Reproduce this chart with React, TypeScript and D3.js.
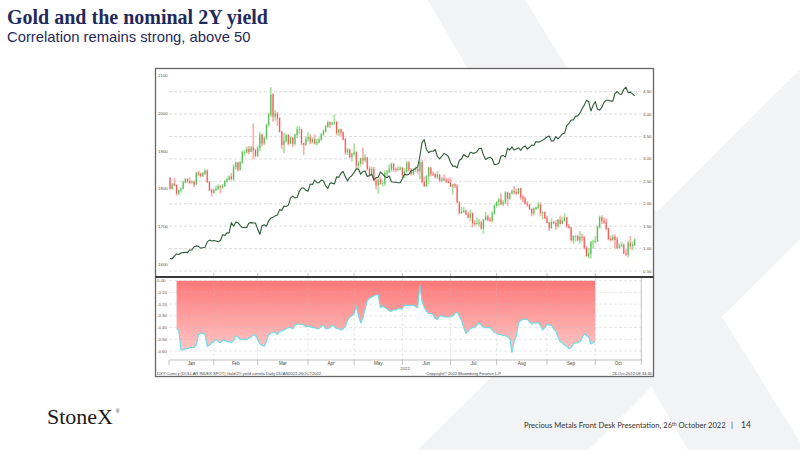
import React from "react";
import * as d3 from "d3";

// Gold spot daily bars [open, high, low, close], 03 Jan 2022 – 26 Oct 2022 (weekdays)
const goldOHLC: [number, number, number, number][] = [
  [1829,1831,1798,1801],[1801,1815,1798,1814],[1814,1829,1808,1810],[1810,1812,1782,1789],[1789,1798,1783,1797],
  [1797,1804,1790,1801],[1801,1822,1799,1818],[1818,1829,1815,1826],[1826,1828,1815,1821],[1821,1830,1812,1817],
  [1817,1823,1814,1819],[1819,1822,1805,1813],[1813,1845,1811,1843],[1843,1848,1834,1840],[1840,1843,1830,1835],
  [1835,1845,1831,1842],[1842,1853,1837,1848],[1848,1852,1816,1819],[1819,1821,1794,1797],[1797,1801,1780,1791],
  [1791,1801,1787,1797],
  [1797,1808,1795,1801],[1801,1812,1797,1807],[1807,1810,1788,1805],[1805,1813,1800,1808],[1808,1823,1805,1821],
  [1821,1830,1816,1826],[1826,1836,1823,1833],[1833,1842,1822,1827],[1827,1865,1821,1859],[1859,1873,1851,1870],
  [1870,1871,1846,1852],[1852,1874,1849,1871],[1871,1902,1866,1898],[1898,1903,1887,1898],[1898,1913,1894,1906],
  [1906,1914,1892,1899],[1899,1914,1897,1910],[1910,1974,1878,1903],[1903,1907,1883,1889],[1889,1914,1885,1909],
  [1909,1950,1900,1944],[1944,1946,1913,1922],[1922,1937,1916,1936],[1936,1973,1930,1970],[1970,2002,1964,1998],
  [1998,2070,1990,2050],[2050,2054,1978,1993],[1993,2009,1981,2000],[2000,2004,1967,1988],[1988,1990,1950,1952],
  [1952,1954,1906,1918],[1918,1949,1895,1928],[1928,1945,1923,1943],[1943,1945,1915,1921],[1921,1939,1920,1936],
  [1936,1938,1910,1921],[1921,1946,1915,1944],[1944,1966,1935,1958],[1958,1966,1945,1958],[1958,1960,1915,1922],
  [1922,1922,1890,1918],[1918,1939,1915,1933],[1933,1950,1925,1937],
  [1937,1945,1918,1925],[1925,1937,1920,1932],[1932,1944,1917,1922],[1922,1933,1915,1925],[1925,1936,1920,1931],
  [1931,1948,1928,1945],[1945,1958,1940,1954],[1954,1970,1948,1966],[1966,1981,1962,1977],[1977,1979,1961,1972],
  [1972,1978,1969,1975],[1975,1998,1970,1978],[1978,1980,1942,1949],[1949,1960,1940,1958],[1958,1960,1940,1951],
  [1951,1952,1929,1932],[1932,1935,1891,1898],[1898,1909,1890,1904],[1904,1907,1881,1886],[1886,1896,1872,1894],
  [1894,1920,1888,1897],
  [1897,1900,1850,1863],[1863,1875,1850,1868],[1868,1883,1860,1881],[1881,1910,1865,1877],[1877,1892,1870,1883],
  [1883,1885,1848,1854],[1854,1860,1832,1838],[1838,1859,1836,1853],[1853,1858,1820,1822],[1822,1828,1798,1811],
  [1811,1826,1787,1825],[1825,1833,1810,1815],[1815,1822,1806,1815],[1815,1849,1808,1842],[1842,1850,1834,1846],
  [1846,1865,1842,1853],[1853,1870,1845,1866],[1866,1869,1845,1853],[1853,1857,1845,1851],[1851,1860,1848,1853],
  [1853,1860,1849,1856],[1856,1858,1829,1837],
  [1837,1855,1828,1847],[1847,1874,1843,1869],[1869,1874,1846,1851],[1851,1855,1835,1841],[1841,1855,1837,1852],
  [1852,1860,1845,1853],[1853,1857,1838,1848],[1848,1875,1826,1871],[1871,1878,1815,1819],[1819,1833,1805,1808],
  [1808,1836,1805,1835],[1835,1858,1813,1857],[1857,1857,1833,1840],[1840,1846,1834,1839],[1839,1842,1828,1832],
  [1832,1847,1826,1838],[1838,1839,1817,1823],[1823,1831,1817,1827],[1827,1838,1822,1823],[1823,1830,1815,1820],
  [1820,1829,1815,1817],[1817,1830,1805,1807],
  [1807,1813,1784,1812],[1812,1815,1802,1808],[1808,1812,1764,1764],[1764,1767,1732,1737],[1737,1752,1734,1740],
  [1740,1752,1736,1742],[1742,1745,1731,1733],[1733,1738,1722,1725],[1725,1745,1714,1735],[1735,1738,1697,1710],
  [1710,1717,1702,1708],[1708,1724,1705,1709],[1709,1720,1700,1711],[1711,1716,1692,1696],[1696,1720,1681,1719],
  [1719,1739,1716,1727],[1727,1731,1714,1719],[1719,1725,1712,1717],[1717,1741,1711,1735],[1735,1760,1731,1756],
  [1756,1767,1750,1766],
  [1766,1776,1754,1772],[1772,1788,1757,1760],[1760,1770,1754,1765],[1765,1794,1760,1791],[1791,1792,1754,1775],
  [1775,1790,1771,1789],[1789,1798,1785,1794],[1794,1807,1785,1792],[1792,1800,1783,1789],[1789,1802,1786,1802],
  [1802,1803,1771,1779],[1779,1784,1764,1775],[1775,1780,1759,1761],[1761,1767,1753,1758],[1758,1760,1745,1747],
  [1747,1748,1727,1736],[1736,1751,1730,1748],[1748,1753,1743,1751],[1751,1765,1746,1758],[1758,1764,1727,1737],
  [1737,1740,1719,1738],[1738,1740,1719,1723],[1723,1728,1709,1711],
  [1711,1712,1688,1697],[1697,1722,1695,1712],[1712,1716,1707,1710],[1710,1717,1691,1702],[1702,1720,1697,1718],
  [1718,1729,1705,1708],[1708,1726,1708,1716],[1716,1735,1713,1724],[1724,1726,1697,1702],[1702,1707,1695,1697],
  [1697,1699,1660,1665],[1665,1677,1654,1675],[1675,1677,1660,1675],[1675,1678,1663,1664],[1664,1688,1654,1673],
  [1673,1681,1660,1671],[1671,1675,1639,1644],[1644,1650,1621,1622],[1622,1643,1615,1629],[1629,1661,1615,1660],
  [1660,1665,1641,1660],[1660,1675,1655,1661],
  [1661,1704,1659,1699],[1699,1729,1695,1725],[1725,1730,1707,1716],[1716,1724,1707,1712],[1712,1722,1690,1695],
  [1695,1697,1663,1668],[1668,1676,1660,1666],[1666,1679,1661,1673],[1673,1679,1642,1666],[1666,1672,1640,1644],
  [1644,1656,1642,1650],[1650,1660,1645,1652],[1652,1655,1628,1629],[1629,1639,1622,1627],[1627,1662,1618,1657],
  [1657,1675,1639,1649],[1649,1660,1637,1652],[1652,1669,1648,1665],
];

// US 2Y yield (%), same days
const yield2y: number[] = [
  0.78,0.77,0.83,0.88,0.87,0.90,0.91,0.92,0.91,0.97,0.97,1.04,1.06,1.05,1.01,1.02,1.03,1.15,1.19,1.17,1.18,
  1.17,1.15,1.18,1.31,1.29,1.35,1.35,1.58,1.50,1.59,1.58,1.52,1.47,1.47,1.47,1.57,1.58,1.57,1.57,1.43,
  1.32,1.51,1.53,1.50,1.62,1.68,1.70,1.73,1.75,1.87,1.85,1.95,1.94,1.97,2.13,2.17,2.13,2.14,2.28,2.35,2.35,2.30,2.28,
  2.44,2.43,2.53,2.47,2.47,2.53,2.51,2.40,2.34,2.46,2.46,2.44,2.60,2.59,2.68,2.72,2.60,2.51,2.59,2.63,2.70,
  2.78,2.77,2.66,2.72,2.73,2.61,2.63,2.66,2.54,2.58,2.59,2.71,2.66,2.61,2.58,2.62,2.49,2.48,2.48,2.47,2.47,2.56,
  2.66,2.64,2.66,2.73,2.75,2.79,2.82,3.06,3.37,3.43,3.21,3.14,3.17,3.17,3.21,3.05,3.00,3.06,3.12,3.10,3.05,2.92,
  2.84,2.84,2.80,2.97,3.00,3.10,3.06,3.04,3.15,3.13,3.13,3.16,3.23,3.24,3.09,2.99,3.02,3.04,3.00,2.87,2.88,
  2.90,3.06,3.08,3.04,3.24,3.20,3.27,3.20,3.22,3.25,3.19,3.26,3.29,3.22,3.26,3.31,3.30,3.39,3.37,3.39,3.42,3.45,3.49,
  3.51,3.40,3.40,3.50,3.45,3.50,3.56,3.57,3.75,3.79,3.87,3.87,3.95,3.96,4.02,4.12,4.20,4.31,4.28,4.07,4.19,4.28,
  4.11,4.09,4.15,4.26,4.31,4.31,4.29,4.29,4.46,4.50,4.45,4.44,4.55,4.60,4.48,4.49,4.45,4.41,
];

// Rolling correlation, starting at the 4th trading day (06 Jan)
const corrStart = 3;
const corr: number[] = [
  -0.41,-0.42,-0.59,-0.59,-0.58,-0.58,-0.57,-0.57,-0.57,-0.55,
  -0.46,-0.45,-0.45,-0.46,-0.56,-0.55,-0.53,-0.52,-0.50,-0.52,
  -0.53,-0.51,-0.51,-0.52,-0.52,-0.53,-0.51,-0.47,-0.48,-0.50,
  -0.50,-0.50,-0.50,-0.49,-0.48,-0.46,-0.47,-0.50,-0.54,-0.55,
  -0.56,-0.52,-0.46,-0.45,-0.44,-0.44,-0.46,-0.43,-0.43,-0.42,
  -0.41,-0.40,-0.40,-0.41,-0.38,-0.37,-0.37,-0.37,-0.38,-0.39,
  -0.39,-0.39,-0.40,-0.40,-0.41,-0.41,-0.39,-0.38,-0.41,-0.41,
  -0.40,-0.38,-0.39,-0.41,-0.41,-0.42,-0.41,-0.39,-0.34,-0.31,
  -0.30,-0.28,-0.22,-0.30,-0.36,-0.32,-0.24,-0.17,-0.15,-0.14,
  -0.13,-0.12,-0.12,-0.23,-0.22,-0.23,-0.24,-0.26,-0.26,-0.25,
  -0.25,-0.24,-0.24,-0.24,-0.21,-0.21,-0.21,-0.21,-0.21,-0.22,
  -0.23,-0.04,-0.18,-0.23,-0.26,-0.28,-0.28,-0.29,-0.32,-0.33,
  -0.30,-0.30,-0.31,-0.31,-0.31,-0.31,-0.30,-0.28,-0.27,-0.30,
  -0.34,-0.40,-0.45,-0.43,-0.41,-0.40,-0.40,-0.38,-0.36,-0.38,
  -0.40,-0.40,-0.40,-0.40,-0.42,-0.44,-0.45,-0.46,-0.46,-0.47,
  -0.47,-0.48,-0.49,-0.61,-0.52,-0.47,-0.36,-0.34,-0.33,-0.33,
  -0.33,-0.35,-0.37,-0.36,-0.36,-0.36,-0.38,-0.42,-0.40,-0.37,
  -0.38,-0.38,-0.41,-0.43,-0.48,-0.52,-0.53,-0.55,-0.56,-0.58,
  -0.57,-0.54,-0.53,-0.53,-0.52,-0.49,-0.45,-0.47,-0.48,-0.54,
  -0.53,-0.52,
];

const monthLabels = ["Jan", "Feb", "Mar", "Apr", "May", "Jun", "Jul", "Aug", "Sep", "Oct"];
const goldTicks = [1600, 1700, 1800, 1900, 2000, 2100];
const yieldTicks = [0.5, 1.0, 1.5, 2.0, 2.5, 3.0, 3.5, 4.0, 4.5];
const corrTicks = [0, -0.1, -0.2, -0.3, -0.4, -0.5, -0.6];

const startDate = new Date(2022, 0, 3);
const axisEndDate = new Date(2022, 9, 31);

function weekdays(a: Date, b: Date): Date[] {
  const out: Date[] = [];
  const d = new Date(a);
  while (d <= b) {
    const w = d.getDay();
    if (w !== 0 && w !== 6) out.push(new Date(d));
    d.setDate(d.getDate() + 1);
  }
  return out;
}

const SANS = "'Liberation Sans', Arial, sans-serif";
const SERIF = "'Liberation Serif', 'Times New Roman', serif";
const NAVY = "#1f2a5c";

export default function App() {
  const n = goldOHLC.length;
  const days = weekdays(startDate, axisEndDate);

  const x = d3.scaleLinear().domain([0, n - 1]).range([170, 634.7]);
  const yG = d3.scaleLinear().domain([1600, 2100]).range([264.2, 75.8]);
  const yY = d3.scaleLinear().domain([0.5, 4.5]).range([271, 91.7]);
  const yC = d3.scaleLinear().domain([-0.6, 0]).range([351, 280.7]);

  // month boundaries at last trading day of each month
  const monthEnds: number[] = monthLabels.map((_, m) => {
    let last = -1;
    days.forEach((d, i) => { if (d.getMonth() === m) last = i; });
    return last;
  });
  const plotL = 169;
  const plotR = x(monthEnds[monthEnds.length - 1]);
  const bounds = [plotL, ...monthEnds.map((i) => x(i))];

  const yieldPath = d3.line<number>().x((_, i) => x(i)).y((d) => yY(d)).curve(d3.curveLinear)(yield2y) || "";
  const corrArea = d3.area<number>().x((_, i) => x(i + corrStart)).y0(yC(0)).y1((d) => yC(d))(corr) || "";
  const corrLine = d3.line<number>().x((_, i) => x(i + corrStart)).y((d) => yC(d))(corr) || "";

  const frameL = 155.5, frameR = 653.5, frameT = 68.5, frameB = 376.5, sepY = 277;

  return (
    <svg width={800} height={450} viewBox="0 0 800 450" style={{ position: "absolute", left: 0, top: 0, background: "#fff" }}>
      <defs>
        <linearGradient id="corrFill" gradientUnits="userSpaceOnUse" x1="0" y1={yC(0)} x2="0" y2={yC(-0.6)}>
          <stop offset="0" stopColor="#ff7878" />
          <stop offset="1" stopColor="#ffc6c6" />
        </linearGradient>
      </defs>

      {/* watermark X */}
      <g fill="#f2f3f5">
        <polygon points="428,0 525,0 805,450 688,450" />
        <polygon points="418,450 588,450 1040,0 870,0" />
      </g>

      {/* titles */}
      <text x={7} y={23.5} fontFamily={SERIF} fontWeight="bold" fontSize={20} fill={NAVY}>Gold and the nominal 2Y yield</text>
      <text x={7} y={41.7} fontFamily={SANS} fontSize={14.8} fill={NAVY}>Correlation remains strong, above 50</text>

      {/* chart frame */}
      <rect x={frameL} y={frameT} width={frameR - frameL} height={frameB - frameT} fill="#fff" stroke="#666" strokeWidth={1.3} />

      {/* ===== top panel ===== */}
      <g>
        {yieldTicks.map((t) => (
          <line key={"gy" + t} x1={plotL} x2={plotR} y1={yY(t)} y2={yY(t)} stroke="#cfcfcf" strokeWidth={0.7} strokeDasharray="3,2" />
        ))}
        {goldTicks.map((t) => (
          <text key={"gl" + t} x={158} y={yG(t)} dy="0.35em" fontFamily={SANS} fontSize={4.4} fill="#555">{t}</text>
        ))}
        {yieldTicks.map((t) => (
          <text key={"yl" + t} x={643} y={yY(t)} dy="0.35em" fontFamily={SANS} fontSize={4.4} fill="#555">{t.toFixed(2)}</text>
        ))}
        {monthEnds.slice(0, -1).map((i) => (
          <line key={"tt" + i} x1={x(i)} x2={x(i)} y1={sepY - 4} y2={sepY} stroke="#999" strokeWidth={0.6} />
        ))}

        {/* gold bars */}
        {goldOHLC.map(([o, h, l, c], i) => {
          const up = c >= o;
          const light = up ? "#a9e3a0" : "#ffaeae";
          const dark = up ? "#4cb050" : "#ee4a4a";
          const cx = x(i);
          return (
            <g key={"b" + i}>
              <line x1={cx} x2={cx} y1={yG(h)} y2={yG(l)} stroke={light} strokeWidth={1.7} />
              <line x1={cx} x2={cx} y1={yG(Math.max(o, c))} y2={yG(Math.min(o, c)) + 0.6} stroke={dark} strokeWidth={0.9} />
            </g>
          );
        })}

        {/* yield line */}
        <path d={yieldPath} fill="none" stroke="#2e5b38" strokeWidth={1.1} strokeLinejoin="round" />
      </g>

      {/* separator */}
      <line x1={frameL} x2={frameR} y1={sepY} y2={sepY} stroke="#3a3a3a" strokeWidth={2} />

      {/* ===== bottom panel ===== */}
      <g>
        <path d={corrArea} fill="url(#corrFill)" />
        <path d={corrLine} fill="none" stroke="#6fdde6" strokeWidth={1.2} strokeLinejoin="round" />
        {corrTicks.map((t) => (
          <line key={"gc" + t} x1={plotL} x2={plotR} y1={yC(t)} y2={yC(t)} stroke="#bbb" strokeOpacity={0.6} strokeWidth={0.6} strokeDasharray="3,2" />
        ))}
        {bounds.slice(1, -1).map((bx, k) => (
          <line key={"gv" + k} x1={bx} x2={bx} y1={sepY + 1} y2={360} stroke="#bbb" strokeOpacity={0.6} strokeWidth={0.6} strokeDasharray="3,2" />
        ))}
        {corrTicks.map((t) => (
          <text key={"cl" + t} x={157} y={yC(t)} dy="0.35em" fontFamily={SANS} fontSize={4.4} fill="#555">{t.toFixed(2)}</text>
        ))}
        <line x1={plotR} x2={plotR} y1={sepY + 1} y2={360} stroke="#999" strokeWidth={0.6} />
        <line x1={plotL} x2={plotR} y1={360} y2={360} stroke="#999" strokeWidth={0.6} />
        {bounds.map((bx, k) => (
          <line key={"bt" + k} x1={bx} x2={bx} y1={360} y2={365} stroke="#999" strokeWidth={0.6} />
        ))}
        {monthLabels.map((m, k) => (
          <text key={"ml" + m} x={(bounds[k] + bounds[k + 1]) / 2} y={363.5} dy="0.35em" textAnchor="middle" fontFamily={SANS} fontSize={4.5} fill="#444">{m}</text>
        ))}
        <text x={(plotL + plotR) / 2} y={368.6} dy="0.35em" textAnchor="middle" fontFamily={SANS} fontSize={4.3} fill="#444">2022</text>
        <text x={157} y={373.6} dy="0.35em" fontFamily={SANS} fontSize={4.1} fill="#444">DXY Curncy (DOLLAR INDEX SPOT) Gold 2Y yield correla  Daily 03JAN2022-26OCT2022</text>
        <text x={464} y={373.6} dy="0.35em" textAnchor="middle" fontFamily={SANS} fontSize={4.1} fill="#444">Copyright© 2022 Bloomberg Finance L.P.</text>
        <text x={652} y={373.6} dy="0.35em" textAnchor="end" fontFamily={SANS} fontSize={4.1} fill="#444">26-Oct-2022 08:34:40</text>
      </g>

      {/* footer */}
      <text x={47} y={424} fontFamily={SERIF} fontSize={22} fill="#1a1a1a">StoneX</text>
      <text x={116} y={413} fontFamily={SANS} fontSize={4.5} fill="#1a1a1a">®</text>
      <text x={524} y={428} fontFamily="Lato, 'Open Sans', sans-serif" fontSize={7.6} fill="#333">
        Precious Metals Front Desk Presentation, 26<tspan dy={-2.5} fontSize={5}>th</tspan><tspan dy={2.5}> October 2022</tspan>
      </text>
      <text x={731} y={428} fontFamily="Lato, sans-serif" fontSize={8} fill="#333">|</text>
      <text x={741} y={428} fontFamily="Lato, sans-serif" fontSize={8.5} fill="#333">14</text>
    </svg>
  );
}
